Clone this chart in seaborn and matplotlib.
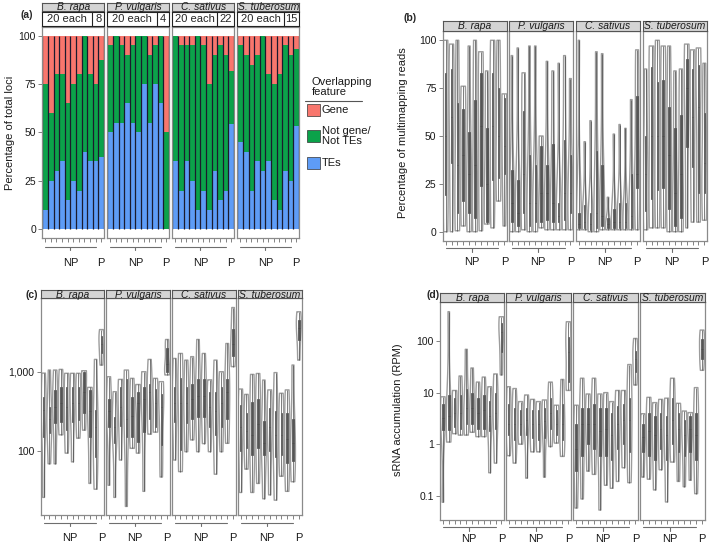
import numpy as np
import pandas as pd
import matplotlib
matplotlib.use('Agg')
import matplotlib.pyplot as plt
import seaborn as sns
from matplotlib.patches import Rectangle
from matplotlib.lines import Line2D
from matplotlib.ticker import NullLocator

sns.set_style('white')
plt.rcParams['font.family'] = ['Liberation Sans', 'DejaVu Sans']

# ---- data ----
species = ['B. rapa', 'P. vulgaris', 'C. sativus', 'S. tuberosum']
groups = ['NP%d' % i for i in range(1, 11)] + ['P']
p_counts = ['8', '4', '22', '15']

# (a) percentage of loci overlapping each feature
tes_pct = {
    'B. rapa': [10, 25, 30, 35, 15, 25, 20, 40, 35, 35, 37.5],
    'P. vulgaris': [50, 55, 55, 65, 55, 50, 75, 55, 75, 65, 0],
    'C. sativus': [35, 20, 35, 25, 10, 20, 10, 30, 15, 20, 54.5],
    'S. tuberosum': [45, 40, 20, 35, 30, 35, 15, 10, 30, 25, 53.3],
}
notgene_pct = {
    'B. rapa': [65, 35, 50, 45, 50, 50, 60, 60, 45, 40, 50],
    'P. vulgaris': [45, 45, 40, 25, 40, 50, 25, 35, 20, 35, 50],
    'C. sativus': [65, 75, 60, 70, 90, 75, 65, 60, 80, 70, 27.3],
    'S. tuberosum': [50, 50, 65, 55, 70, 45, 60, 70, 65, 65, 40],
}
gene_pct = {
    'B. rapa': [25, 40, 20, 20, 35, 25, 20, 0, 20, 25, 12.5],
    'P. vulgaris': [5, 0, 5, 10, 5, 0, 0, 10, 5, 0, 50],
    'C. sativus': [0, 5, 5, 5, 0, 5, 25, 10, 5, 10, 18.2],
    'S. tuberosum': [5, 10, 15, 10, 0, 20, 25, 20, 5, 10, 6.7],
}

# (b) percentage of multimapping reads: (min, q1, median, q3, max) per locus group
multimap = {
    'B. rapa': [(0, 19, 50, 83, 100), (0, 36, 60, 85, 98), (0.5, 10, 35, 67, 100), (3, 16, 40, 64, 76),
                (0, 10, 30, 52, 97), (0, 7, 35, 69, 100), (0.5, 24, 55, 83, 94), (4, 5, 25, 54, 84),
                (2, 27, 55, 83, 100), (16, 28, 50, 75, 100), (3, 30, 45, 70, 72)],
    'P. vulgaris': [(0, 5, 15, 32, 92), (0, 3, 10, 27, 96), (1, 10, 30, 63, 83), (0, 3, 15, 40, 97),
                    (0, 5, 15, 35, 97), (2, 5, 20, 45, 50), (1, 6, 20, 35, 89), (1, 5, 15, 46, 84),
                    (1, 5, 8, 15, 88), (1, 6, 20, 48, 92), (1, 10, 20, 40, 80)],
    'C. sativus': [(1, 2, 4, 10, 100), (1, 2, 5, 14, 47), (0, 1, 4, 10, 58), (0, 2, 10, 42, 94),
                   (1, 3, 8, 35, 93), (1, 2, 4, 7, 18), (1, 2, 5, 12, 51), (1, 2, 5, 15, 56),
                   (1, 2, 5, 15, 54), (1, 2, 8, 30, 69), (1, 23, 30, 71, 95)],
    'S. tuberosum': [(1, 11, 30, 50, 85), (2, 17, 50, 86, 97), (2, 22, 50, 78, 100), (2, 23, 50, 79, 97),
                     (0, 12, 40, 65, 97), (0, 3, 20, 54, 84), (0, 7, 30, 61, 85), (2, 44, 75, 90, 98),
                     (5, 34, 60, 85, 95), (5, 20, 65, 87, 96), (6, 20, 36, 62, 88)],
}

# (c) locus size
locus_size = {
    'B. rapa': [(26, 150, 330, 480, 960), (69, 167, 250, 360, 1050), (69, 225, 355, 590, 1050),
                (160, 235, 400, 650, 1070), (94, 183, 355, 650, 955), (73, 235, 400, 650, 955),
                (145, 245, 400, 650, 955), (183, 298, 560, 1000, 1030), (39, 151, 316, 590, 635),
                (33, 85, 200, 330, 1430), (1210, 1700, 2240, 2800, 3400)],
    'P. vulgaris': [(37, 200, 316, 447, 865), (26, 126, 200, 270, 560), (77, 204, 355, 650, 800),
                    (20, 151, 250, 800, 1050), (108, 151, 280, 480, 825), (94, 130, 400, 560, 690),
                    (31, 173, 450, 650, 1000), (163, 250, 560, 700, 1430), (173, 200, 400, 600, 825),
                    (47, 120, 355, 530, 750), (910, 1000, 1260, 2000, 2550)],
    'C. sativus': [(77, 235, 400, 650, 1470), (55, 102, 400, 830, 1700), (98, 225, 400, 650, 1400),
                   (138, 250, 450, 700, 1550), (98, 270, 500, 800, 2550), (124, 270, 500, 800, 1700),
                   (98, 200, 355, 550, 790), (51, 160, 316, 560, 1400), (98, 200, 400, 650, 1000),
                   (125, 250, 560, 800, 2270), (1160, 1600, 2240, 3500, 6450)],
    'S. tuberosum': [(30, 100, 200, 380, 605), (59, 110, 180, 300, 518), (30, 90, 160, 420, 925),
                     (39, 110, 220, 450, 950), (25, 90, 125, 240, 785), (28, 100, 200, 350, 590),
                     (24, 85, 160, 320, 975), (48, 90, 160, 300, 535), (31, 70, 140, 300, 590),
                     (41, 75, 125, 250, 1215), (1400, 2500, 3550, 4500, 5700)],
}

# (d) sRNA accumulation (RPM)
srna_rpm = {
    'B. rapa': [(0.075, 1.9, 3.2, 6, 8.3), (1.1, 1.9, 3.5, 9, 370), (1.6, 2.2, 4, 8, 11), (1.5, 2, 4, 9, 21),
                (1.5, 2.5, 5, 12, 69), (1.7, 2.5, 5, 10, 30), (1.4, 2, 4, 8, 16), (1.4, 2, 4.5, 9, 20),
                (0.28, 1.8, 3.5, 7, 13), (0.43, 2, 4, 10, 23), (22, 60, 150, 220, 295)],
    'P. vulgaris': [(0.6, 1.5, 2.5, 6, 13), (0.43, 1.2, 2.5, 5, 12), (1, 1.5, 2.5, 4.5, 6.7), (0.22, 1.5, 3, 5, 9),
                    (0.71, 1.3, 2.5, 4.5, 7.4), (0.71, 1.2, 2.5, 4.5, 6.7), (0.23, 1.3, 2.8, 5, 7.2),
                    (0.9, 2, 4, 8, 16), (1.05, 1.5, 2.5, 4.5, 5.7), (0.58, 1.2, 2.5, 6, 18), (11, 16, 60, 120, 236)],
    'C. sativus': [(0.058, 0.3, 0.8, 2.5, 5.7), (0.087, 0.6, 2.5, 5, 19), (0.3, 1, 2.5, 5, 9.4),
                   (0.26, 0.8, 2.5, 6, 19), (0.053, 0.6, 1.8, 5, 9.4), (0.16, 0.6, 2, 5, 10),
                   (0.14, 0.5, 1.5, 4, 6.7), (0.19, 0.8, 2.5, 5.5, 11), (0.35, 1, 3, 6, 11),
                   (0.18, 0.7, 3, 8, 35), (14, 25, 45, 65, 112)],
    'S. tuberosum': [(0.23, 0.7, 1.4, 2.5, 3.9), (0.21, 0.6, 1.8, 4, 8.1), (0.13, 0.5, 1.5, 3.5, 6.4),
                     (0.32, 0.8, 2, 4, 7.4), (0.076, 0.5, 1.5, 3.5, 7.8), (0.45, 1, 3, 8, 19),
                     (0.19, 0.7, 2, 4, 6.2), (0.15, 0.6, 1.5, 3, 4.4), (0.2, 0.7, 2, 3.5, 4.1),
                     (0.11, 0.5, 1.5, 4, 12.5), (27, 45, 70, 110, 163)],
}

col_gene = '#F8766D'
col_other = '#0BA24A'
col_tes = '#5E9CF6'
frame_col = '#8a8a8a'
tick_col = '#6e6e6e'

W, H = 709, 546
fig = plt.figure(figsize=(W / 100, H / 100), dpi=100)


def add_panel(x0, y0, x1, y1):
    return fig.add_axes([x0 / W, 1 - y1 / H, (x1 - x0) / W, (y1 - y0) / H])


def add_strip(x0, y0, x1, y1, text, fc='#d4d4d4', ec='#555555'):
    s = add_panel(x0, y0, x1, y1)
    s.set_facecolor(fc)
    s.set_xticks([])
    s.set_yticks([])
    for sp in s.spines.values():
        sp.set_color(ec)
        sp.set_linewidth(0.8)
    s.text(0.5, 0.45, text, ha='center', va='center', fontsize=7.4, style='italic',
           color='#1a1a1a', transform=s.transAxes)
    return s


def style_facet(ax, first, h_px, ylim, yticks=None, yticklabels=None, line_px=8, text_px=23):
    ax.set_xlim(-0.5, len(groups) - 0.5)
    ax.set_ylim(*ylim)
    ax.set_xlabel('')
    ax.set_ylabel('')
    for sp in ax.spines.values():
        sp.set_color(frame_col)
        sp.set_linewidth(0.9)
    ax.set_xticks(range(len(groups)))
    ax.set_xticklabels([])
    ax.tick_params(axis='x', length=3, width=0.6, color=tick_col, bottom=True)
    ax.yaxis.set_minor_locator(NullLocator())
    ax.set_yticks(yticks)
    if first:
        ax.set_yticklabels(yticklabels)
        ax.tick_params(axis='y', length=3, width=0.6, color=tick_col, labelsize=7.5,
                       labelcolor='#1a1a1a', pad=1.5, left=True)
    else:
        ax.tick_params(axis='y', length=0, labelleft=False)
    tr = ax.get_xaxis_transform()
    ly = -line_px / h_px
    ax.plot([0, len(groups) - 2], [ly, ly], transform=tr, color=tick_col, lw=0.8, clip_on=False)
    ax.plot([4.5, 4.5], [ly, ly - 3.5 / h_px], transform=tr, color=tick_col, lw=0.8, clip_on=False)
    ax.text(4.5, -text_px / h_px, 'NP', transform=tr, ha='center', va='center', fontsize=8, color='#1a1a1a')
    ax.text(len(groups) - 1, -text_px / h_px, 'P', transform=tr, ha='center', va='center',
            fontsize=8, color='#1a1a1a')


def violin_facet(ax, values, log):
    df = pd.DataFrame({'group': np.repeat(groups, 5),
                       'value': np.concatenate([np.array(v, dtype=float) for v in values])})
    sns.violinplot(data=df, x='group', y='value', order=groups, ax=ax, cut=0, inner=None,
                   fill=False, color='#9c9c9c', linecolor='#9c9c9c', linewidth=1.0,
                   density_norm='width', width=0.85, bw_adjust=0.8, log_scale=log)
    sns.boxplot(data=df, x='group', y='value', order=groups, ax=ax, width=0.26, whis=(0, 100),
                color='#555555', linecolor='#4a4a4a', linewidth=0.5, showfliers=False,
                showcaps=False, log_scale=log, saturation=1)


# ---------- (a) stacked bars ----------
A_X = [(42.3, 104), (107.3, 169), (172.3, 234), (237.3, 299)]
split = [0.81, 0.80, 0.73, 0.76]
for i, sp in enumerate(species):
    x0, x1 = A_X[i]
    ax = add_panel(x0, 26.7, x1, 238)
    tes = np.array(tes_pct[sp])
    oth = np.array(notgene_pct[sp])
    gen = np.array(gene_pct[sp])
    total = tes + oth + gen
    sns.barplot(x=groups, y=total, color=col_gene, width=1, saturation=1,
                linewidth=0, errorbar=None, ax=ax)
    sns.barplot(x=groups, y=tes + oth, color=col_other, width=1, saturation=1,
                linewidth=0, errorbar=None, ax=ax)
    sns.barplot(x=groups, y=tes, color=col_tes, width=1, saturation=1,
                linewidth=0, errorbar=None, ax=ax)
    # dark separators between adjacent bars
    ax.vlines(np.arange(len(groups) + 1) - 0.5, 0, total.max(), color='#1b1b2e', lw=0.9)
    style_facet(ax, i == 0, 238 - 26.7, (-4.5, 104.6), [0, 25, 50, 75, 100],
                ['0', '25', '50', '75', '100'], line_px=8.7, text_px=25)
    add_strip(x0, 2.7, x1, 11.3, sp)
    n = add_panel(x0, 11.7, x1, 25.7)
    n.set_xticks([])
    n.set_yticks([])
    n.set_xlim(0, 1)
    n.set_ylim(0, 1)
    for s in n.spines.values():
        s.set_color('#222222')
        s.set_linewidth(0.8)
    n.axvline(split[i], color='#222222', lw=0.8)
    n.text(split[i] / 2, 0.45, '20 each', ha='center', va='center', fontsize=8)
    n.text((split[i] + 1) / 2, 0.45, p_counts[i], ha='center', va='center', fontsize=8)

fig.text(27 / W, 1 - 15 / H, '(a)', fontsize=7.5, fontweight='bold', ha='center', va='center')
fig.text(10 / W, 1 - 133 / H, 'Percentage of total loci', rotation=90, fontsize=8,
         ha='center', va='center', color='#1a1a1a')

# legend for (a)
fig.text(312 / W, 1 - 87 / H, 'Overlapping\nfeature', fontsize=8, ha='left', va='center',
         linespacing=1.1, color='#1a1a1a')
fig.add_artist(Line2D([305 / W, 362 / W], [1 - 100.5 / H, 1 - 100.5 / H], color='#555555', lw=0.8))
legend_items = [('Gene', col_gene, 110), ('Not gene/\nNot TEs', col_other, 136), ('TEs', col_tes, 163)]
for label, c, yc in legend_items:
    fig.add_artist(Rectangle((307 / W, 1 - (yc + 5.5) / H), 13 / W, 11 / H, facecolor=c,
                             edgecolor='#333333', lw=0.5))
    fig.text(322 / W, 1 - yc / H, label, fontsize=8, ha='left', va='center', linespacing=1.05,
             color='#1a1a1a')

# ---------- (b) multimapping reads ----------
B_X = [(442.7, 507.3), (509, 573.3), (576, 640), (642.7, 707.3)]
for i, sp in enumerate(species):
    x0, x1 = B_X[i]
    ax = add_panel(x0, 30.7, x1, 240.7)
    violin_facet(ax, multimap[sp], False)
    style_facet(ax, i == 0, 210, (-4.7, 105), [0, 25, 50, 75, 100],
                ['0', '25', '50', '75', '100'], line_px=7.6, text_px=21)
    add_strip(x0, 20.7, x1, 30.7, sp)
fig.text(410 / W, 1 - 18 / H, '(b)', fontsize=7.5, fontweight='bold', ha='center', va='center')
fig.text(403 / W, 1 - 133 / H, 'Percentage of multimapping reads', rotation=90, fontsize=8,
         ha='center', va='center', color='#1a1a1a')

# ---------- (c) locus size ----------
C_X = [(40.7, 104.3), (106, 170), (171.7, 236), (237.7, 301.7)]
for i, sp in enumerate(species):
    x0, x1 = C_X[i]
    ax = add_panel(x0, 298.3, x1, 515)
    violin_facet(ax, locus_size[sp], True)
    style_facet(ax, i == 0, 515 - 298.3, (15.6, 8430), [100, 1000], ['100', '1,000'],
                line_px=7.7, text_px=23)
    add_strip(x0, 290, x1, 298.3, sp)
fig.text(32 / W, 1 - 295 / H, '(c)', fontsize=7.5, fontweight='bold', ha='center', va='center')

# ---------- (d) sRNA accumulation ----------
D_X = [(440, 504.3), (505.7, 571.3), (573.3, 638.3), (640, 705)]
for i, sp in enumerate(species):
    x0, x1 = D_X[i]
    ax = add_panel(x0, 302.3, x1, 520)
    violin_facet(ax, srna_rpm[sp], True)
    style_facet(ax, i == 0, 520 - 302.3, (0.034, 562), [0.1, 1, 10, 100], ['0.1', '1', '10', '100'],
                line_px=7.3, text_px=19)
    add_strip(x0, 292.7, x1, 302.3, sp)
fig.text(433 / W, 1 - 295 / H, '(d)', fontsize=7.5, fontweight='bold', ha='center', va='center')
fig.text(398 / W, 1 - 410 / H, 'sRNA accumulation (RPM)', rotation=90, fontsize=8,
         ha='center', va='center', color='#1a1a1a')

fig.savefig('out.png', dpi=100)
